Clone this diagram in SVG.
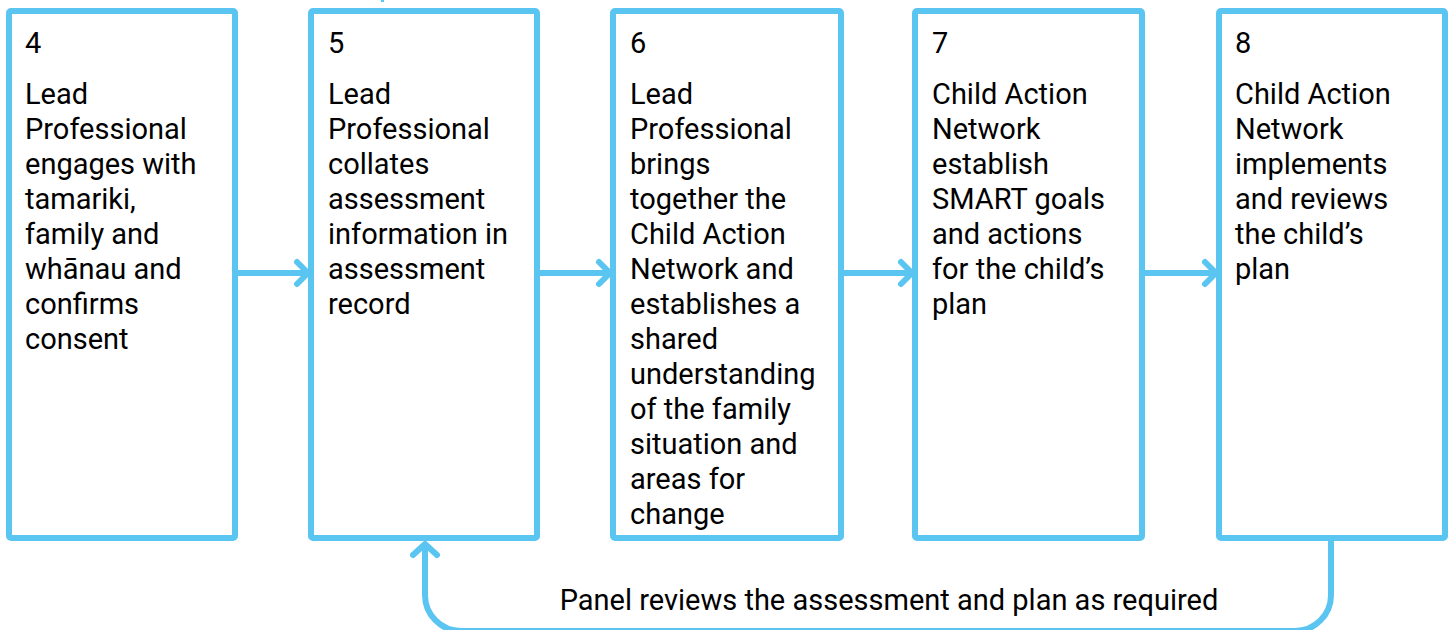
<svg xmlns="http://www.w3.org/2000/svg" width="1455" height="630" viewBox="0 0 1455 630">
<style>
.box{fill:#fff;stroke:#5BC5F2;stroke-width:6}
.con{fill:none;stroke:#5BC5F2;stroke-width:6;stroke-linecap:round;stroke-linejoin:round}
.t{font-family:Roboto,"Liberation Sans",sans-serif;font-size:29px;fill:#000}
</style>
<rect width="1455" height="630" fill="#fff"/>
<g id="connectors">
<path class="con" d="M238 273H306M297 262L308 273L297 284"/>
<path class="con" d="M540 273H608M599 262L610 273L599 284"/>
<path class="con" d="M844 273H910M901 262L912 273L901 284"/>
<path class="con" d="M1145 273H1214M1205 262L1216 273L1205 284"/>
<path class="con" d="M1331 542V595A36 36 0 0 1 1295 631H461A36 36 0 0 1 425 595V546M413 555L425 544L437 555"/>
<rect x="381" y="0" width="3" height="2" fill="#5BC5F2"/>
</g>
<g id="node4">
<rect class="box" x="9" y="11" width="226" height="527" rx="2"/>
<text class="t" x="25" y="53">4</text>
<text class="t" x="25" y="104">Lead<tspan x="25" dy="35">Professional</tspan><tspan x="25" dy="35">engages with</tspan><tspan x="25" dy="35">tamariki,</tspan><tspan x="25" dy="35">family and</tspan><tspan x="25" dy="35">whānau and</tspan><tspan x="25" dy="35">confirms</tspan><tspan x="25" dy="35">consent</tspan></text>
</g>
<g id="node5">
<rect class="box" x="311" y="11" width="226" height="527" rx="2"/>
<text class="t" x="328" y="53">5</text>
<text class="t" x="328" y="104">Lead<tspan x="328" dy="35">Professional</tspan><tspan x="328" dy="35">collates</tspan><tspan x="328" dy="35">assessment</tspan><tspan x="328" dy="35">information in</tspan><tspan x="328" dy="35">assessment</tspan><tspan x="328" dy="35">record</tspan></text>
</g>
<g id="node6">
<rect class="box" x="613" y="11" width="228" height="527" rx="2"/>
<text class="t" x="630" y="53">6</text>
<text class="t" x="630" y="104">Lead<tspan x="630" dy="35">Professional</tspan><tspan x="630" dy="35">brings</tspan><tspan x="630" dy="35">together the</tspan><tspan x="630" dy="35">Child Action</tspan><tspan x="630" dy="35">Network and</tspan><tspan x="630" dy="35">establishes a</tspan><tspan x="630" dy="35">shared</tspan><tspan x="630" dy="35">understanding</tspan><tspan x="630" dy="35">of the family</tspan><tspan x="630" dy="35">situation and</tspan><tspan x="630" dy="35">areas for</tspan><tspan x="630" dy="35">change</tspan></text>
</g>
<g id="node7">
<rect class="box" x="915" y="11" width="227" height="527" rx="2"/>
<text class="t" x="932" y="53">7</text>
<text class="t" x="932" y="104">Child Action<tspan x="932" dy="35">Network</tspan><tspan x="932" dy="35">establish</tspan><tspan x="932" dy="35">SMART goals</tspan><tspan x="932" dy="35">and actions</tspan><tspan x="932" dy="35">for the child’s</tspan><tspan x="932" dy="35">plan</tspan></text>
</g>
<g id="node8">
<rect class="box" x="1219" y="11" width="226" height="527" rx="2"/>
<text class="t" x="1235" y="53">8</text>
<text class="t" x="1235" y="104">Child Action<tspan x="1235" dy="35">Network</tspan><tspan x="1235" dy="35">implements</tspan><tspan x="1235" dy="35">and reviews</tspan><tspan x="1235" dy="35">the child’s</tspan><tspan x="1235" dy="35">plan</tspan></text>
</g>
<g id="label">
<text class="t" x="889" y="610" text-anchor="middle">Panel reviews the assessment and plan as required</text>
</g>
</svg>
